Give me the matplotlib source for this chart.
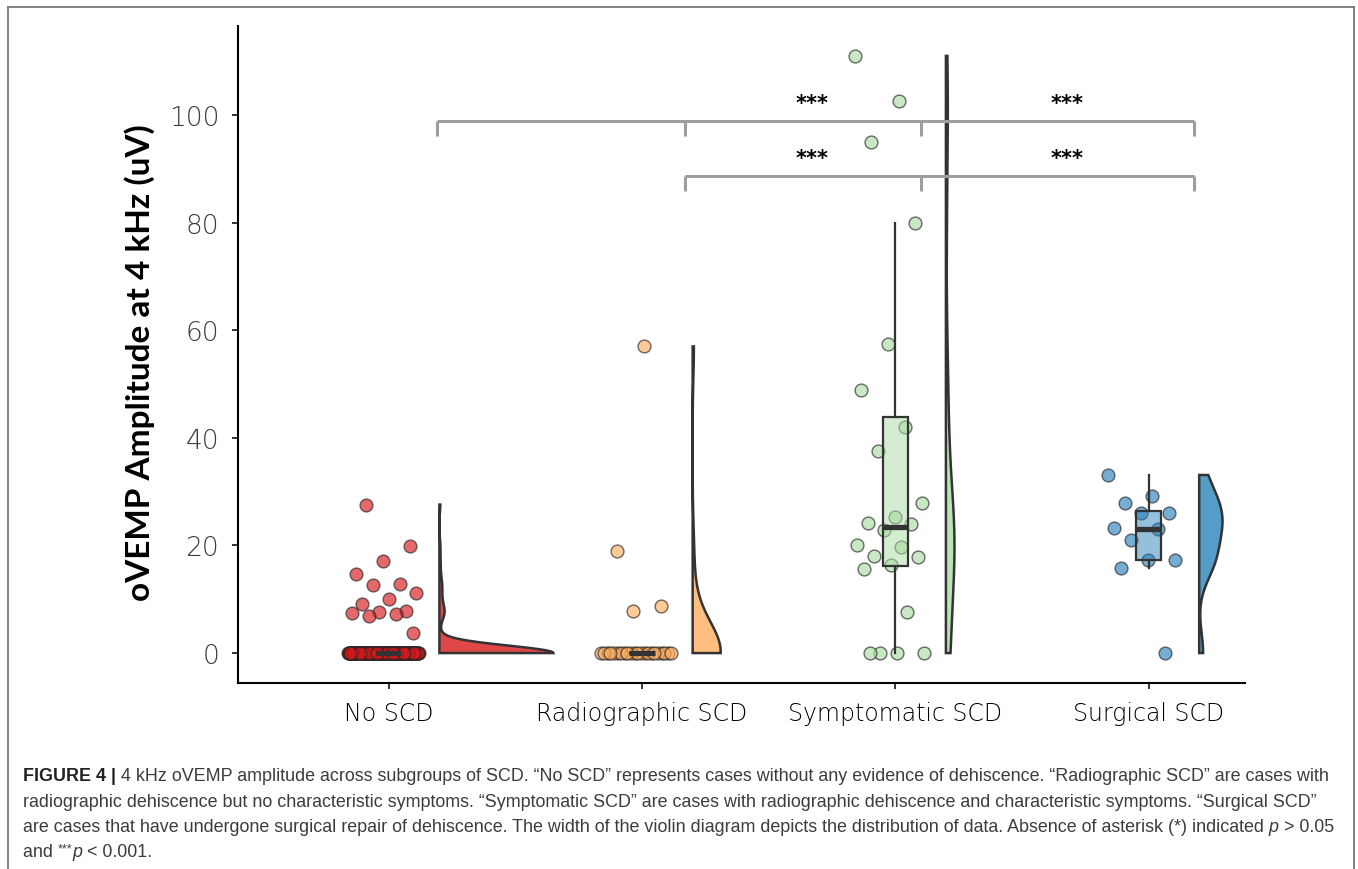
import numpy as np
import matplotlib
matplotlib.use("Agg")
import matplotlib.pyplot as plt
from matplotlib.colors import to_rgba
from matplotlib.lines import Line2D

# groups and colours (Spectral-like)
groups = ["No SCD", "Radiographic SCD", "Symptomatic SCD", "Surgical SCD"]
colors = ["#D7191C", "#FDAE61", "#ABDDA4", "#2B83BA"]

# oVEMP amplitudes (uV)
no_scd = [0.0] * 125 + [27.6, 19.9, 17.1, 14.7, 12.8, 12.6, 11.2, 10.0,
                        9.1, 7.8, 7.6, 7.5, 7.3, 6.9, 3.7]
radiographic = [0.0] * 22 + [57.0, 19.0, 8.8, 7.8]
symptomatic = [111.0, 102.6, 95.0, 80.0, 57.4, 48.9, 42.1, 37.5, 27.9, 25.2,
               24.1, 23.9, 22.9, 20.0, 19.7, 18.0, 17.8, 16.3, 15.7, 7.6,
               0.0, 0.0, 0.0, 0.0]
surgical = [33.1, 29.2, 27.8, 26.0, 26.0, 23.2, 23.0, 21.0, 17.3, 17.3,
            15.8, 0.0]
data = [no_scd, radiographic, symptomatic, surgical]

yticks = [0, 20, 40, 60, 80, 100]

# significance brackets: level, tick positions, label positions
bracket_y = [98.9, 88.6]
bracket_x = [[1.19, 2.17, 3.10, 4.18], [2.17, 3.10, 4.18]]
label_x = [[2.67, 3.68], [2.67, 3.68]]
labels = [["***", "***"], ["***", "***"]]


def bw_nrd0(x):
    # same rule R uses for density()
    hi = np.std(x, ddof=1)
    q75, q25 = np.percentile(x, [75, 25])
    lo = min(hi, (q75 - q25) / 1.34)
    if lo == 0:
        lo = hi or abs(x[0]) or 1.0
    return 0.9 * lo * len(x) ** -0.2


fig = plt.figure(figsize=(13.58, 8.70), dpi=100)
ax = fig.add_axes([0.1753, 0.2134, 0.7415, 0.7552])

# half violins
dens = []
for vals in data:
    v = np.asarray(vals, float)
    bw = bw_nrd0(v)
    grid = np.linspace(v.min(), v.max(), 512)
    d = np.exp(-0.5 * ((grid[:, None] - v[None, :]) / bw) ** 2).sum(1)
    d = d / (len(v) * bw * np.sqrt(2 * np.pi))
    dens.append((grid, d))
dmax = max(d.max() for _, d in dens)

for i, (grid, d) in enumerate(dens):
    base = i + 1 + 0.2
    xs = np.concatenate([base + d / dmax * 0.45, [base, base]])
    ys = np.concatenate([grid, [grid[-1], grid[0]]])
    ax.fill(xs, ys, facecolor=to_rgba(colors[i], 0.8), edgecolor="#333333",
            linewidth=1.8, zorder=2)

# jittered points
for i, vals in enumerate(data):
    n = len(vals)
    jit = ((np.arange(n) * 0.618034) % 1 - 0.5) * 0.28 - 0.02
    ax.scatter(i + 1 + jit, vals, s=85, facecolor=colors[i], alpha=0.65,
               edgecolor="#222222", linewidth=1.0, zorder=3)

# boxplots
bp = ax.boxplot(data, positions=[1, 2, 3, 4], widths=0.1, patch_artist=True,
                showfliers=False, showcaps=False, whis=1.5,
                boxprops=dict(linewidth=1.6, edgecolor="#333333"),
                whiskerprops=dict(linewidth=1.6, color="#333333"),
                medianprops=dict(linewidth=3.8, color="#333333",
                                 solid_capstyle="butt"),
                zorder=4)
for patch, c in zip(bp["boxes"], colors):
    patch.set_facecolor(to_rgba(c, 0.5))

# brackets
for y, xt, lx, lab in zip(bracket_y, bracket_x, label_x, labels):
    ax.plot([xt[0], xt[-1]], [y, y], color="#9E9E9E", linewidth=2.2,
            solid_capstyle="butt", zorder=5)
    for x in xt:
        ax.plot([x, x], [y, y - 2.8], color="#9E9E9E", linewidth=2.2,
                solid_capstyle="butt", zorder=5)
    for x, s in zip(lx, lab):
        ax.text(x, y + 2.3, s, ha="center", va="baseline", fontsize=15,
                fontweight="bold", color="black", zorder=6)

ax.set_xlim(0.405, 4.381)
ax.set_ylim(-5.63, 116.5)
ax.set_xticks([1, 2, 3, 4])
ax.set_xticklabels(groups, fontsize=17, color="black",
                   family="DejaVu Sans", fontweight="light")
ax.set_yticks(yticks)
ax.set_yticklabels([str(t) for t in yticks], fontsize=19, color="#3a3a3a",
                   family="DejaVu Sans", fontweight="light")
ax.tick_params(axis="both", length=4.5, width=1.4, color="#333333")
ax.tick_params(axis="y", pad=9)
ax.tick_params(axis="x", pad=8)
for side in ["top", "right"]:
    ax.spines[side].set_visible(False)
for side in ["left", "bottom"]:
    ax.spines[side].set_linewidth(1.5)
    ax.spines[side].set_color("black")

ax.set_ylabel("oVEMP Amplitude at 4 kHz (uV)", fontsize=24,
              fontweight="bold", family="Lato", color="black")
ax.yaxis.set_label_coords(-0.082, 0.49)

# outer frame
frame = dict(color="#777777", linewidth=1.3, transform=fig.transFigure)
fig.add_artist(Line2D([7.5 / 1358, 1353.5 / 1358], [1 - 8 / 870, 1 - 8 / 870], **frame))
fig.add_artist(Line2D([7.5 / 1358, 7.5 / 1358], [1 - 8 / 870, 0], **frame))
fig.add_artist(Line2D([1353.5 / 1358, 1353.5 / 1358], [1 - 8 / 870, 0], **frame))

# caption, laid out piece by piece
renderer = fig.canvas.get_renderer()
cap = dict(family="Liberation Sans", fontsize=12.9, color="#3c3c3c",
           va="center", ha="left")
lines = [
    [("FIGURE 4 |", dict(fontweight="bold", color="#222222")),
     (" 4 kHz oVEMP amplitude across subgroups of SCD. \u201cNo SCD\u201d represents "
      "cases without any evidence of dehiscence. \u201cRadiographic SCD\u201d are cases with", {})],
    [("radiographic dehiscence but no characteristic symptoms. \u201cSymptomatic SCD\u201d "
      "are cases with radiographic dehiscence and characteristic symptoms. \u201cSurgical SCD\u201d", {})],
    [("are cases that have undergone surgical repair of dehiscence. The width of the violin "
      "diagram depicts the distribution of data. Absence of asterisk (*) indicated ", {}),
     ("p", dict(fontstyle="italic")), (" > 0.05", {})],
    [("and ", {}), ("***", dict(fontsize=9, dy=4)), ("p", dict(fontstyle="italic")),
     (" < 0.001.", {})],
]
line_y = [777, 803, 828, 853]
for pieces, py in zip(lines, line_y):
    x = 23 / 1358
    for txt, kw in pieces:
        kw = dict(kw)
        dy = kw.pop("dy", 0)
        props = dict(cap)
        props.update(kw)
        t = fig.text(x, 1 - (py - dy) / 870, txt, **props)
        bb = t.get_window_extent(renderer)
        x = bb.x1 / fig.bbox.width

fig.savefig("out.png", dpi=100)
